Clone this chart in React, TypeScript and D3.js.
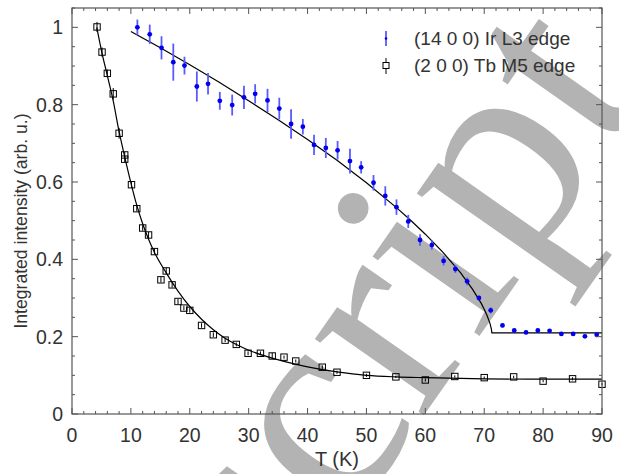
import React from "react";
import * as d3 from "d3";

// (14 0 0) Ir L3 edge
const irT = [11.1, 13.2, 15.2, 17.2, 19.1, 21.2, 23.1, 25.1, 27.2, 29.2, 31.1, 33.2, 35.2, 37.2, 39.2, 41.1, 43.1, 45.1, 47.2, 49.1, 51.2, 53.2, 55.1, 57.1, 59.1, 61.1, 63.1, 65.1, 67.1, 69.1, 71.1, 73.1, 75.1, 77.1, 79.1, 81.1, 83.1, 85.1, 87.1, 89.1];
const irI = [1.0, 0.982, 0.947, 0.91, 0.901, 0.847, 0.854, 0.81, 0.799, 0.819, 0.828, 0.811, 0.79, 0.75, 0.743, 0.696, 0.688, 0.682, 0.654, 0.638, 0.598, 0.564, 0.535, 0.498, 0.45, 0.437, 0.396, 0.375, 0.343, 0.3, 0.268, 0.229, 0.216, 0.211, 0.216, 0.215, 0.207, 0.207, 0.201, 0.205];
const irErr = [0.02, 0.025, 0.03, 0.048, 0.023, 0.039, 0.028, 0.023, 0.027, 0.03, 0.025, 0.03, 0.028, 0.038, 0.02, 0.026, 0.026, 0.024, 0.032, 0.016, 0.02, 0.025, 0.02, 0.017, 0.015, 0.012, 0.012, 0.01, 0.01, 0.006, 0.008, 0.005, 0.004, 0.004, 0.004, 0.004, 0.004, 0.004, 0.004, 0.006];

// (2 0 0) Tb M5 edge
const tbT = [4.25, 5.1, 6.0, 7.0, 8.0, 8.95, 8.95, 10.1, 11.0, 12.0, 13.0, 14.0, 15.1, 16.0, 17.0, 18.0, 19.0, 20.0, 22.0, 24.0, 26.0, 27.9, 29.9, 32.0, 34.0, 36.0, 38.0, 42.5, 45.0, 50.0, 55.0, 60.0, 65.0, 70.0, 75.0, 80.0, 85.0, 90.0];
const tbI = [1.001, 0.936, 0.881, 0.828, 0.726, 0.67, 0.659, 0.593, 0.531, 0.481, 0.463, 0.42, 0.347, 0.37, 0.334, 0.291, 0.274, 0.268, 0.229, 0.205, 0.191, 0.18, 0.157, 0.157, 0.15, 0.147, 0.137, 0.121, 0.108, 0.1, 0.096, 0.088, 0.097, 0.094, 0.096, 0.085, 0.091, 0.077];
const tbErr = [0.013, 0.012, 0.01, 0.015, 0.014, 0.008, 0.008, 0.008, 0.007, 0.007, 0.008, 0.007, 0.007, 0.008, 0.007, 0.007, 0.006, 0.006, 0.006, 0.006, 0.005, 0.005, 0.005, 0.005, 0.008, 0.004, 0.004, 0.005, 0.004, 0.004, 0.003, 0.004, 0.003, 0.003, 0.003, 0.003, 0.004, 0.003];

// fit curves
const irFitT = [10, 15, 20, 25, 30, 35, 40, 45, 50, 55, 57.5, 60, 63, 66, 68, 69.5, 70, 70.5, 71, 71.2, 71.3, 90];
const irFitI = [0.989, 0.947, 0.903, 0.858, 0.81, 0.761, 0.71, 0.656, 0.598, 0.535, 0.501, 0.465, 0.418, 0.365, 0.323, 0.286, 0.271, 0.254, 0.233, 0.221, 0.21, 0.21];
const tbFitT = [4.2, 5, 6, 7, 8, 9, 10, 11, 12, 13, 14, 16, 18, 20, 22, 24, 26, 28, 30, 33, 36, 40, 45, 50, 55, 60, 70, 80, 90];
const tbFitI = [1.0, 0.94, 0.875, 0.81, 0.73, 0.662, 0.598, 0.54, 0.492, 0.452, 0.418, 0.365, 0.318, 0.278, 0.245, 0.218, 0.196, 0.179, 0.165, 0.149, 0.136, 0.122, 0.109, 0.1, 0.096, 0.094, 0.091, 0.09, 0.09];

const xTicks = [0, 10, 20, 30, 40, 50, 60, 70, 80, 90];
const yTicks = [0, 0.2, 0.4, 0.6, 0.8, 1];
const yTickLabels = ["0", "0.2", "0.4", "0.6", "0.8", "1"];
const legendLabels = ["(14 0 0) Ir L3 edge", "(2 0 0) Tb M5 edge"];
const xTitle = "T (K)";
const yTitle = "Integrated intensity (arb. u.)";
const watermark = "script";

const W = 619;
const H = 474;
const L = 72, R = 602, T = 8, B = 414;
const FONT = "'Liberation Sans', Arial, Helvetica, sans-serif";
const AX = "#555";
const TXT = "#333";

export default function App() {
  const x = d3.scaleLinear().domain([0, 90]).range([L, R]);
  const y = d3.scaleLinear().domain([0, 1.05]).range([B, T]);

  const xMinor = d3.range(0, 90.01, 2).filter((v) => v % 10 !== 0);
  const yMinor = d3.range(0, 1.051, 0.05).filter((v) => Math.abs(v * 5 - Math.round(v * 5)) > 1e-6);

  const irFit = d3.line<number>().x((d, i) => x(irFitT[i])).y((d) => y(d))(irFitI) || "";
  const tbFit = d3
    .line<number>()
    .x((d, i) => x(tbFitT[i]))
    .y((d) => y(d))
    .curve(d3.curveMonotoneX)(tbFitI) || "";

  const sq = 6.4;
  const blue = "#0000ee";
  const blueBar = "#5a5aff";

  return (
    <svg width={W} height={H} style={{ position: "absolute", left: 0, top: 0, background: "#fff" }} fontFamily={FONT}>
      <rect x={0} y={0} width={W} height={H} fill="#fff" />
      <defs>
        <clipPath id="page">
          <rect x={0} y={0} width={W} height={H} />
        </clipPath>
      </defs>
      {/* watermark */}
      <g clipPath="url(#page)">
        <text
          transform="translate(282,618) rotate(-55)"
          fontFamily="'Liberation Serif', 'Times New Roman', serif"
          fontSize={290}
          fill="#b3b3b3"
        >
          {watermark}
        </text>
      </g>

      {/* fit lines */}
      <path d={tbFit} fill="none" stroke="#000" strokeWidth={1.2} />
      <path d={irFit} fill="none" stroke="#000" strokeWidth={1.2} />

      {/* Tb data */}
      {tbT.map((t, i) => (
        <g key={"tb" + i}>
          <line x1={x(t)} x2={x(t)} y1={y(tbI[i] - tbErr[i])} y2={y(tbI[i] + tbErr[i])} stroke="#000" strokeWidth={1} />
          <rect x={x(t) - sq / 2} y={y(tbI[i]) - sq / 2} width={sq} height={sq} fill="none" stroke="#000" strokeWidth={1} />
        </g>
      ))}

      {/* Ir data */}
      {irT.map((t, i) => (
        <g key={"ir" + i}>
          <line x1={x(t)} x2={x(t)} y1={y(irI[i] - irErr[i])} y2={y(irI[i] + irErr[i])} stroke={blueBar} strokeWidth={1.8} />
          <circle cx={x(t)} cy={y(irI[i])} r={2.4} fill={blue} />
        </g>
      ))}

      {/* frame */}
      <rect x={L} y={T} width={R - L} height={B - T} fill="none" stroke={AX} strokeWidth={1.2} />
      {xTicks.map((v) => (
        <g key={"xt" + v}>
          <line x1={x(v)} x2={x(v)} y1={B} y2={B - 6} stroke={AX} strokeWidth={1} />
          <line x1={x(v)} x2={x(v)} y1={T} y2={T + 6} stroke={AX} strokeWidth={1} />
          <text x={x(v)} y={442} textAnchor="middle" fontSize={19.5} fill={TXT}>
            {String(v)}
          </text>
        </g>
      ))}
      {xMinor.map((v) => (
        <g key={"xm" + v}>
          <line x1={x(v)} x2={x(v)} y1={B} y2={B - 3} stroke={AX} strokeWidth={1} />
          <line x1={x(v)} x2={x(v)} y1={T} y2={T + 3} stroke={AX} strokeWidth={1} />
        </g>
      ))}
      {yTicks.map((v, i) => (
        <g key={"yt" + v}>
          <line x1={L} x2={L + 6} y1={y(v)} y2={y(v)} stroke={AX} strokeWidth={1} />
          <line x1={R} x2={R - 6} y1={y(v)} y2={y(v)} stroke={AX} strokeWidth={1} />
          <text x={63} y={y(v) + 7} textAnchor="end" fontSize={19.5} fill={TXT}>
            {yTickLabels[i]}
          </text>
        </g>
      ))}
      {yMinor.map((v) => (
        <g key={"ym" + v}>
          <line x1={L} x2={L + 3} y1={y(v)} y2={y(v)} stroke={AX} strokeWidth={1} />
          <line x1={R} x2={R - 3} y1={y(v)} y2={y(v)} stroke={AX} strokeWidth={1} />
        </g>
      ))}

      {/* axis titles */}
      <text x={(L + R) / 2} y={466} textAnchor="middle" fontSize={20} fill={TXT}>
        {xTitle}
      </text>
      <text transform={`translate(27,221) rotate(-90)`} textAnchor="middle" fontSize={17.6} fill={TXT}>
        {yTitle}
      </text>

      {/* legend */}
      <g>
        <line x1={386} x2={386} y1={31} y2={46} stroke={blueBar} strokeWidth={1.8} />
        <circle cx={386} cy={38.5} r={1.3} fill={blue} />
        <text x={414} y={45} fontSize={19} fill={TXT}>
          {legendLabels[0]}
        </text>
        <line x1={386} x2={386} y1={58} y2={74} stroke="#000" strokeWidth={1} />
        <rect x={383} y={62.5} width={6} height={6} fill="#fff" stroke="#000" strokeWidth={1} />
        <text x={414} y={72} fontSize={19} fill={TXT}>
          {legendLabels[1]}
        </text>
      </g>
    </svg>
  );
}
